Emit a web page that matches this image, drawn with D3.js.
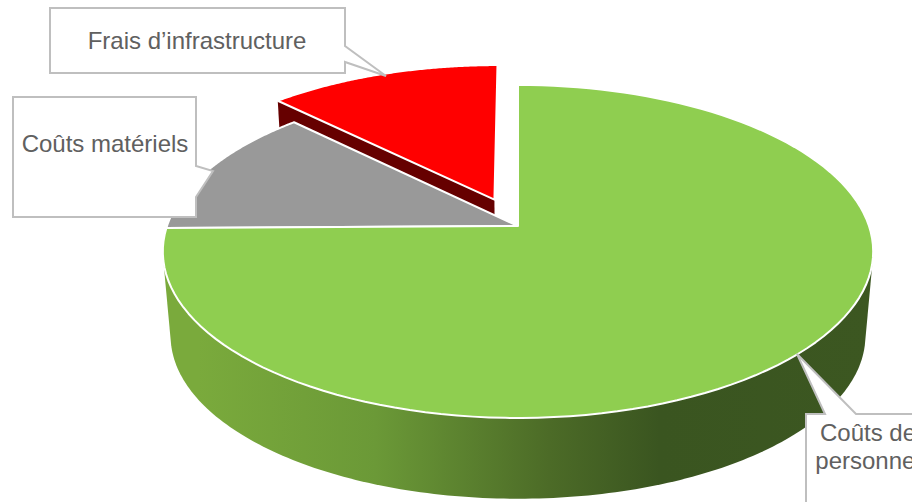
<!DOCTYPE html>
<html lang="fr">
<head>
<meta charset="utf-8">
<script src="https://cdn.jsdelivr.net/npm/d3@7/dist/d3.min.js"></script>
<style>
  html, body { margin: 0; padding: 0; background: #fff; overflow: hidden; }
  svg { display: block; }
  text { font-family: "Liberation Sans", Arial, sans-serif; font-size: 24px; fill: #606060; }
</style>
</head>
<body>
<svg id="chart" width="912" height="502"></svg>
<script>
// Cost breakdown, percent of total, clockwise from twelve o'clock
const categories = ["Coûts de personnel", "Coûts matériels", "Frais d’infrastructure"];
const shares = [74.8, 12.7, 12.5];
const sliceColors = ["#8fce50", "#999999", "#ff0000"];
const explodedSlice = [0, 0, 0.18];
const sideColors = ["#7aaa3c", "#6b9937", "#4c6b27", "#3a5520", "#3c5721"];
const sideStops = [0.05, 0.3, 0.545, 0.7, 1];

const svg = d3.select("#chart");

// Perspective disc: apex on screen, horizontal/vertical scales and foreshortening
const apex = { x: 518, y: 226 };
const persp = { a: 351, b: 162.6, k: 0.153 };
const base = { shrink: 0.978, drop: 85 };

function project(theta, r, slice, level) {
  const off = slice ? slice.offset : 0;
  const mid = slice ? (slice.startAngle + slice.endAngle) / 2 : 0;
  const px = r * Math.sin(theta) + off * Math.sin(mid);
  const py = r * Math.cos(theta) + off * Math.cos(mid);
  const w = 1 + persp.k * py;
  let X = persp.a * px / w;
  let Y = -persp.b * py / w;
  if (level === "base") { X *= base.shrink; Y = Y * base.shrink + base.drop; }
  return [apex.x + X, apex.y + Y];
}

const pie = d3.pie().sort(null).value(d => d)(shares).map((s, i) => ({
  ...s,
  name: categories[i],
  color: sliceColors[i],
  offset: explodedSlice[i]
}));

const line = d3.line();
const arcSteps = s => d3.range(0, 1.0001, 1 / 120).map(t => s.startAngle + t * (s.endAngle - s.startAngle));
const topPath = s => line([project(0, 0, s, "top"), ...arcSteps(s).map(a => project(a, 1, s, "top"))]) + "Z";

// Horizontal shading of the rim
const defs = svg.append("defs");
const grad = defs.append("linearGradient").attr("id", "rim")
  .attr("gradientUnits", "userSpaceOnUse")
  .attr("x1", 163).attr("x2", 872).attr("y1", 0).attr("y2", 0);
sideStops.forEach((o, i) => grad.append("stop").attr("offset", o).attr("stop-color", sideColors[i]));

// Front rim of the large slice
const rimAngles = d3.range(95, 265.01, 1).map(d => d * Math.PI / 180);
const rimPoints = rimAngles.flatMap(a => [project(a, 1, null, "top"), project(a, 1, null, "base")]);
svg.append("path")
  .attr("d", line(d3.polygonHull(rimPoints)) + "Z")
  .attr("fill", "url(#rim)");

// Cut face of the exploded slice
const red = pie[2];
svg.append("path")
  .attr("d", line([
    project(red.startAngle, 1, red, "top"),
    project(0, 0, red, "top"),
    project(0, 0, red, "base"),
    project(red.startAngle, 1, red, "base")
  ]) + "Z")
  .attr("fill", "#660000");

// Slice tops
svg.selectAll("path.slice")
  .data([pie[2], pie[1], pie[0]])
  .join("path")
  .attr("class", "slice")
  .attr("d", topPath)
  .attr("fill", d => d.color)
  .attr("stroke", "#ffffff")
  .attr("stroke-width", 2)
  .attr("stroke-linejoin", "round");

// Callout boxes with their pointers
const callouts = [
  { name: categories[2], lines: [categories[2]], cx: 197, baseY: [49],
    path: [[50, 8], [345, 8], [345, 46], [386, 76], [345, 62], [345, 73], [50, 73]] },
  { name: categories[1], lines: [categories[1]], cx: 105, baseY: [152],
    path: [[13, 97], [196, 97], [196, 166], [213, 171], [196, 197], [196, 217], [13, 217]] },
  { name: categories[0], lines: ["Coûts de", "personnel"], cx: 868, baseY: [441, 469],
    path: [[806, 414], [825, 414], [797, 354], [856, 414], [930, 414], [930, 530], [806, 530]] }
];

const boxes = svg.selectAll("g.callout").data(callouts).join("g").attr("class", "callout");
boxes.append("path")
  .attr("d", d => line(d.path) + "Z")
  .attr("fill", "#fff")
  .attr("stroke", "#bfbfbf")
  .attr("stroke-width", 2);
boxes.each(function (d) {
  const g = d3.select(this);
  d.lines.forEach((t, i) => g.append("text")
    .attr("x", d.cx).attr("y", d.baseY[i])
    .attr("text-anchor", "middle")
    .text(t));
});
</script>
</body>
</html>
